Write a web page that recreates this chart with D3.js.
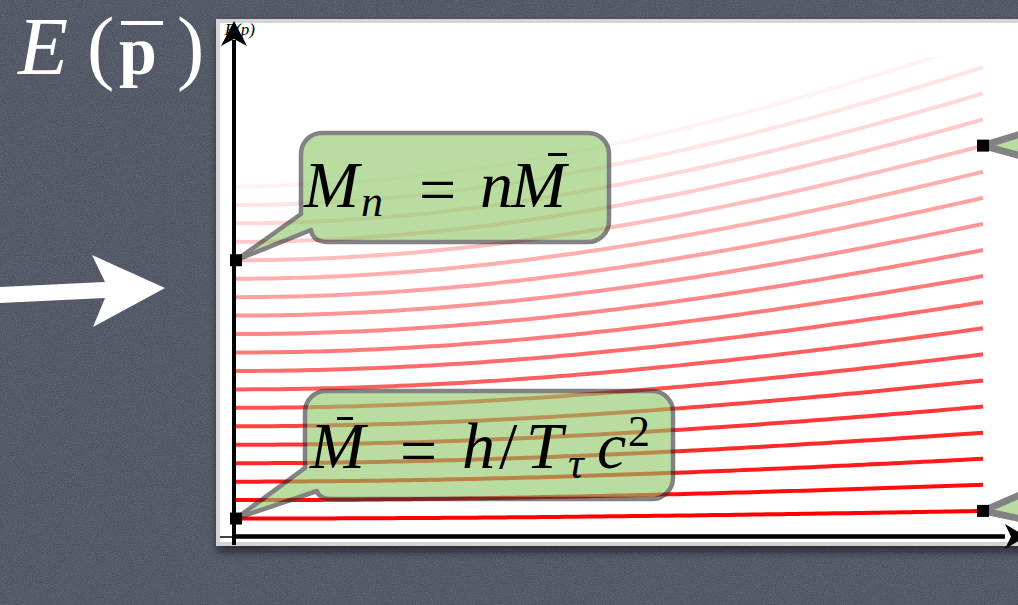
<!DOCTYPE html>
<html>
<head>
<meta charset="utf-8">
<script src="https://cdn.jsdelivr.net/npm/d3@7"></script>
<style>
  html, body { margin: 0; padding: 0; background: #4a4f5d; overflow: hidden; }
  svg { display: block; }
</style>
</head>
<body>
<script>
// Mass tower: E_n(p) = M_n * sqrt(1 + p^2), with M_n = n * Mbar
const modeNumbers = [1, 2, 3, 4, 5, 6, 7, 8, 9, 10, 11, 12, 13, 14, 15, 16, 17, 18, 19];
const momentumDomain = [0, 1];          // p / p_max
const energyDomain = [0, 26];           // in units of Mbar
const highlightedModes = [1, 15];       // levels that carry callouts

const SERIF = "Liberation Serif";
const W = 1018, H = 605;
const svg = d3.select("body").append("svg").attr("width", W).attr("height", H);
const defs = svg.append("defs");

// chalkboard grain
const grain = defs.append("filter").attr("id", "grain").attr("x", 0).attr("y", 0).attr("width", 1).attr("height", 1);
grain.append("feTurbulence").attr("type", "fractalNoise").attr("baseFrequency", 0.9).attr("numOctaves", 2).attr("seed", 3).attr("result", "n");
grain.append("feColorMatrix").attr("in", "n").attr("type", "matrix")
  .attr("values", "0 0 0 0 0.36  0 0 0 0 0.38  0 0 0 0 0.44  0 0 0 0.7 -0.15");
const shadow = defs.append("filter").attr("id", "shadow").attr("x", -0.1).attr("y", -0.1).attr("width", 1.2).attr("height", 1.2);
shadow.append("feDropShadow").attr("dx", 2).attr("dy", 5).attr("stdDeviation", 4).attr("flood-color", "#15171c").attr("flood-opacity", 0.7);

svg.append("rect").attr("width", W).attr("height", H).attr("fill", "#4b505e");
svg.append("rect").attr("width", W).attr("height", H).attr("filter", "url(#grain)").attr("opacity", 0.6);

// big heading E(p̄)
const head = svg.append("text").attr("font-family", SERIF).attr("fill", "#fff").attr("y", 74);
head.append("tspan").attr("x", 18).attr("font-style", "italic").attr("font-size", 82).text("E");
head.append("tspan").attr("x", 87).attr("font-size", 82).text("(");
head.append("tspan").attr("x", 119).attr("font-weight", "bold").attr("font-size", 68).text("p");
head.append("tspan").attr("x", 177).attr("font-size", 82).text(")");
svg.append("rect").attr("x", 121).attr("y", 21).attr("width", 42).attr("height", 4).attr("fill", "#fff");

// white pointer arrow
svg.append("path")
  .attr("d", "M0,287 L105,282 L92,255 L165,288 L93,327 L105,298 L0,303 Z")
  .attr("fill", "#fff");

// paper panel
svg.append("rect").attr("x", 218).attr("y", 21).attr("width", 840).attr("height", 523)
  .attr("fill", "#fff").attr("stroke", "#d4d4d4").attr("stroke-width", 4).attr("filter", "url(#shadow)");

// scales
const x = d3.scaleLinear().domain(momentumDomain).range([236, 983]);
const y = d3.scaleLinear().domain(energyDomain).range([537, 57.3]);

defs.append("clipPath").attr("id", "plotclip").append("rect")
  .attr("x", x(0)).attr("y", y(energyDomain[1])).attr("width", x(1) - x(0) + 2).attr("height", y(0) - y(energyDomain[1]));

const samples = d3.range(0, 1.0001, 0.01);
const energy = (n, p) => n * Math.sqrt(1 + p * p);
const line = d3.line().x(d => x(d[0])).y(d => y(d[1]));
const opacity = d3.scaleLinear().domain([1, 20]).range([1, 0]);

svg.append("g").attr("clip-path", "url(#plotclip)")
  .selectAll("path").data(modeNumbers).join("path")
  .attr("d", n => line(samples.map(p => [p, energy(n, p)])))
  .attr("fill", "none").attr("stroke", "#ff0000").attr("stroke-width", 4)
  .attr("stroke-opacity", n => opacity(n));

// small axis label, mostly hidden by the arrow head
svg.append("text").attr("font-family", SERIF).attr("x", 255).attr("y", 35).attr("text-anchor", "end")
  .attr("font-style", "italic").attr("font-size", 17).text("E(p)");

// axes
const axes = svg.append("g").attr("stroke", "#000").attr("fill", "#000");
axes.append("line").attr("x1", x(0) - 2).attr("x2", x(0) - 2).attr("y1", 545).attr("y2", 40).attr("stroke-width", 4);
axes.append("line").attr("x1", 220).attr("x2", 232).attr("y1", y(0)).attr("y2", y(0)).attr("stroke-width", 1.5);
axes.append("line").attr("x1", x(0) - 4).attr("x2", 1005).attr("y1", y(0) - 0.5).attr("y2", y(0) - 0.5).attr("stroke-width", 4.5);
axes.append("path").attr("stroke", "none")
  .attr("d", `M${x(0) - 2},21 L${x(0) + 11},46 L${x(0) - 2},39 L${x(0) - 15},46 Z`);
axes.append("path").attr("stroke", "none")
  .attr("d", `M1026,${y(0) - 0.5} L1005,${y(0) - 13} L1011,${y(0) - 0.5} L1005,${y(0) + 12} Z`);

// callouts
const callouts = svg.append("g");
function bubble(x0, y0, x1, y1, r, tip, upper, lower, foot) {
  return `M${x0 + r},${y0} H${x1 - r} A${r},${r} 0 0 1 ${x1},${y0 + r} V${y1 - r} A${r},${r} 0 0 1 ${x1 - r},${y1}` +
    ` H${foot[0]} Q${lower[0] + 2},${y1} ${lower[0]},${lower[1]} L${tip[0]},${tip[1]} L${upper[0]},${upper[1]}` +
    ` V${y0 + r} A${r},${r} 0 0 1 ${x0 + r},${y0} Z`;
}
const tipTop = [x(0), y(highlightedModes[1])];
const tipBot = [x(0), y(highlightedModes[0])];
const tipTopR = [x(1), y(energy(highlightedModes[1], 1))];
const tipBotR = [x(1), y(energy(highlightedModes[0], 1))];

const bubbleStyle = s => s.attr("fill", "rgb(140,200,100)").attr("stroke", "#303030")
  .attr("stroke-width", 4.5).attr("stroke-linejoin", "round").attr("opacity", 0.6);

callouts.append("path").call(bubbleStyle)
  .attr("d", bubble(301, 133, 609, 242, 21, tipTop, [301, 214], [311, 230], [328, 242]));
callouts.append("path").call(bubbleStyle)
  .attr("d", bubble(305, 391, 673, 499, 21, tipBot, [305, 468], [317, 491], [332, 499]));
callouts.append("path").call(bubbleStyle).attr("stroke-width", 7)
  .attr("d", `M${tipTopR[0]},${tipTopR[1]} L1050,125 L1050,164 Z`);
callouts.append("path").call(bubbleStyle).attr("stroke-width", 7)
  .attr("d", `M${tipBotR[0]},${tipBotR[1]} L1050,482 L1050,525 Z`);

// formula texts, one text element each with positioned pieces
const math = callouts.append("g").attr("fill", "#000");

// M_n = n M̄
const f1 = math.append("text").attr("font-family", SERIF).attr("y", 207).attr("font-size", 66);
f1.append("tspan").attr("x", 304).attr("font-style", "italic").text("M");
f1.append("tspan").attr("x", 361).attr("dy", 9).attr("font-size", 44).attr("font-style", "italic").text("n");
f1.append("tspan").attr("x", 419).attr("dy", -4).text("=");
f1.append("tspan").attr("x", 480).attr("dy", -5).attr("font-style", "italic").text("n");
f1.append("tspan").attr("x", 511).attr("font-style", "italic").text("M");
math.append("rect").attr("x", 548).attr("y", 153).attr("width", 19).attr("height", 3);

// M̄ = h / T_τ c²
const f2 = math.append("text").attr("font-family", SERIF).attr("y", 468).attr("font-size", 66);
f2.append("tspan").attr("x", 310).attr("font-style", "italic").text("M");
f2.append("tspan").attr("x", 400).attr("dy", 5).text("=");
f2.append("tspan").attr("x", 462).attr("dy", -5).attr("font-style", "italic").text("h");
f2.append("tspan").attr("x", 499).text("/");
f2.append("tspan").attr("x", 526).attr("font-style", "italic").text("T");
f2.append("tspan").attr("x", 568).attr("dy", 10).attr("font-size", 44).attr("font-style", "italic").text("τ");
f2.append("tspan").attr("x", 597).attr("dy", -10).attr("font-style", "italic").text("c");
f2.append("tspan").attr("x", 628).attr("dy", -22).attr("font-size", 44).text("2");
math.append("rect").attr("x", 337).attr("y", 417).attr("width", 16).attr("height", 3);

// anchor markers
svg.append("g").selectAll("rect").data([tipTop, tipBot, tipTopR, tipBotR]).join("rect")
  .attr("x", d => d[0] - 6).attr("y", d => d[1] - 6).attr("width", 12).attr("height", 12).attr("fill", "#000");
</script>
</body>
</html>
